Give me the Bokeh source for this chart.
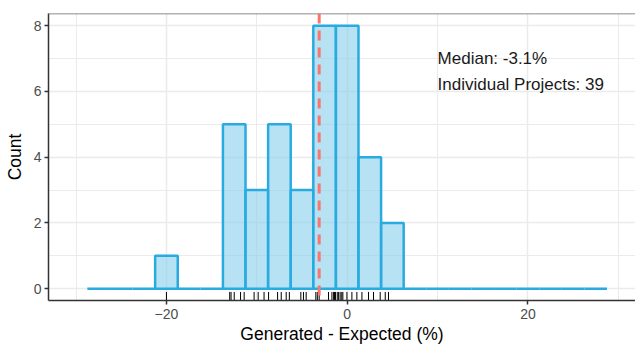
import numpy as np
from bokeh.plotting import figure
from bokeh.models import Range1d, FixedTicker, Span, ColumnDataSource
from bokeh.embed import file_html
from bokeh.resources import INLINE
from bokeh.core.properties import value

# ---- data ----
bin_centers = [-27.5, -25.0, -22.5, -20.0, -17.5, -15.0, -12.5, -10.0, -7.5, -5.0,
               -2.5, 0.0, 2.5, 5.0, 7.5, 10.0, 12.5, 15.0, 17.5, 20.0, 22.5, 25.0, 27.5]
counts = [0, 0, 0, 1, 0, 0, 5, 3, 5, 3, 8, 8, 4, 2, 0, 0, 0, 0, 0, 0, 0, 0, 0]
bin_width = 2.5
rug_values = [-20.0,
              -13.0, -12.85, -12.5, -11.8, -11.4,
              -10.3, -9.85, -9.2,
              -8.7, -7.7, -7.3, -6.75, -6.4,
              -5.13, -4.84, -4.54,
              -3.47, -3.3, -3.1, -2.07, -1.69, -1.5, -1.4, -1.3,
              -1.1, -0.95, -0.78, -0.6, -0.48, -0.03, 0.52, 1.07,
              1.63, 2.36, 2.91, 3.65,
              4.21, 4.57]
median_value = -3.1
annotation_x = [10, 10]
annotation_y = [7.0, 6.22]
annotation_texts = ["Median: -3.1%", "Individual Projects: 39"]
x_ticks = [-20, 0, 20]
x_minor = [-30, -10, 10, 30]
y_ticks = [0, 2, 4, 6, 8]
y_minor = [1, 3, 5, 7]

FONT = "Liberation Sans"

p = figure(width=635, height=346, output_backend="svg", toolbar_location=None,
           x_range=Range1d(-33.05, 31.9), y_range=Range1d(-0.36, 8.37),
           min_border_left=48, min_border_right=0, min_border_top=13,
           min_border_bottom=45)
p.outline_line_color = None
p.background_fill_color = "white"
p.border_fill_color = "white"

# grids
p.xaxis.ticker = FixedTicker(ticks=x_ticks, minor_ticks=x_minor)
p.yaxis.ticker = FixedTicker(ticks=y_ticks, minor_ticks=y_minor)
for g in (p.xgrid, p.ygrid):
    g.grid_line_color = "#ebebeb"
    g.grid_line_width = 1.5
    g.minor_grid_line_color = "#ebebeb"
    g.minor_grid_line_width = 1.0

# axes
for ax in (p.xaxis, p.yaxis):
    ax.axis_line_color = "#333333"
    ax.axis_line_width = 1.5
    ax.major_tick_line_color = "#333333"
    ax.major_tick_line_width = 1.5
    ax.major_tick_out = 4
    ax.major_tick_in = 0
    ax.minor_tick_line_color = None
    ax.major_label_text_font = FONT
    ax.major_label_text_font_size = "14px"
    ax.major_label_text_color = "#4d4d4d"
    ax.axis_label_text_font = FONT
    ax.axis_label_text_font_size = "17.5px"
    ax.axis_label_text_font_style = "normal"
    ax.axis_label_text_color = "black"

p.xaxis.axis_label = "Generated - Expected (%)"
p.yaxis.axis_label = "Count"
p.xaxis.major_label_standoff = 4
p.xaxis.axis_label_standoff = 2
p.yaxis.major_label_standoff = 3
p.yaxis.axis_label_standoff = 6

# top border
p.add_layout(Span(location=8.37, dimension="width", line_color="#666666", line_width=1.5))

# histogram bars
centers = np.array(bin_centers)
src = ColumnDataSource(dict(left=centers - bin_width / 2, right=centers + bin_width / 2,
                            top=counts, bottom=[0] * len(counts)))
p.quad(left="left", right="right", top="top", bottom="bottom", source=src,
       fill_color="#87CEEB", fill_alpha=0.6, line_color="#29ABE2", line_width=2.5)

# rug
rug = np.array(rug_values)
p.segment(x0=rug, y0=[-0.36] * len(rug), x1=rug, y1=[-0.10] * len(rug),
          line_color="black", line_width=1)

# median line
p.add_layout(Span(location=median_value, dimension="height", line_color="#F8766D",
                  line_width=3, line_dash="10 7"))

# annotations
p.text(x=annotation_x, y=annotation_y, text=annotation_texts,
       text_font=value(FONT), text_font_size="17px", text_color="#1a1a1a",
       text_align="left", text_baseline="middle")

open("out.html", "w").write(file_html(p, INLINE))
